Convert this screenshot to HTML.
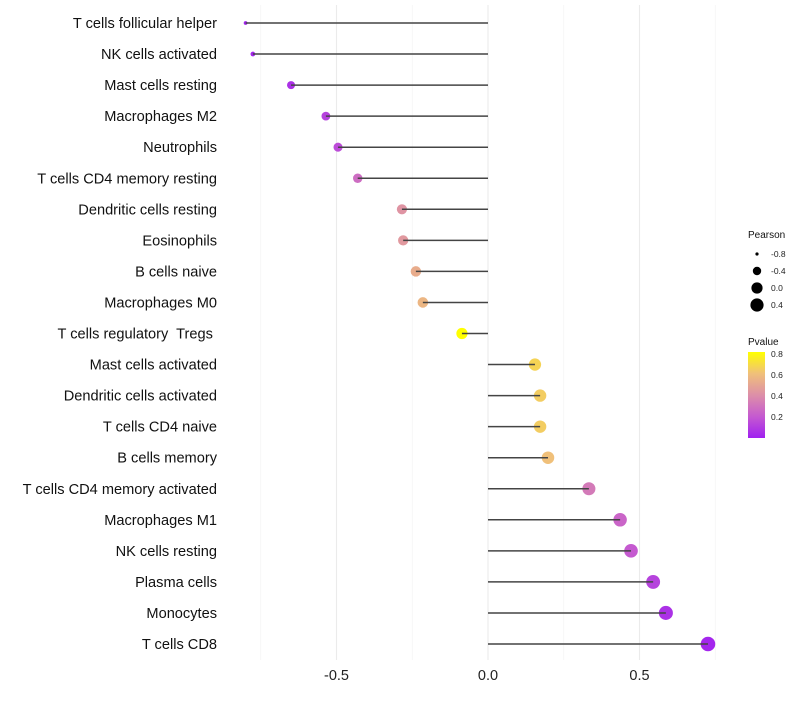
<!DOCTYPE html>
<html><head><meta charset="utf-8"><style>
body{margin:0;background:#fff;font-family:"Liberation Sans",sans-serif}
text{white-space:pre}
</style></head><body>
<svg id="chart" width="800" height="700" xmlns="http://www.w3.org/2000/svg"></svg>
<script>
const categories=["T cells follicular helper","NK cells activated","Mast cells resting","Macrophages M2","Neutrophils","T cells CD4 memory resting","Dendritic cells resting","Eosinophils","B cells naive","Macrophages M0","T cells regulatory  Tregs ","Mast cells activated","Dendritic cells activated","T cells CD4 naive","B cells memory","T cells CD4 memory activated","Macrophages M1","NK cells resting","Plasma cells","Monocytes","T cells CD8"];
const pearson=[-0.80,-0.776,-0.65,-0.535,-0.495,-0.43,-0.284,-0.28,-0.238,-0.215,-0.086,0.155,0.172,0.172,0.198,0.333,0.436,0.472,0.545,0.587,0.726];
const pvalue=[0.01,0.02,0.06,0.12,0.15,0.27,0.42,0.44,0.52,0.56,0.82,0.66,0.64,0.64,0.6,0.32,0.24,0.2,0.12,0.06,0.02];
const xTicks=[-0.5,0,0.5];
const xMinor=[-0.75,-0.25,0.25,0.75];
const sizeLegend=[-0.8,-0.4,0,0.4];
const colorTicks=[0.2,0.4,0.6,0.8];

const NS="http://www.w3.org/2000/svg";
const svg=document.getElementById('chart');
function mk(t,a,p){const e=document.createElementNS(NS,t);for(const k in a)e.setAttribute(k,a[k]);(p||svg).appendChild(e);return e;}
const x=v=>488+v*303;
const y=i=>23+i*31.05;
const r=v=>{const base=Math.sqrt(Math.max(1,33.7+26.9*v));return v<-0.7?base-(( -0.7-v)/0.1)*1.6:base;};
const stops=[[0,[160,32,240]],[0.2,[197,90,208]],[0.4,[221,143,168]],[0.6,[240,192,122]],[0.8,[255,255,0]]];
function col(p){p=Math.max(0,Math.min(0.8,p));for(let i=0;i<stops.length-1;i++){const a=stops[i],b=stops[i+1];if(p<=b[0]){const t=(p-a[0])/(b[0]-a[0]);const c=a[1].map((v,k)=>Math.round(v+(b[1][k]-v)*t));return`rgb(${c})`;}}return'rgb(255,255,0)';}

xMinor.forEach(v=>{const l=mk('line',{x1:x(v),x2:x(v),y1:5,y2:660,stroke:'#f2f2f2','stroke-width':0.6});

});
xTicks.forEach(v=>{const l=mk('line',{x1:x(v),x2:x(v),y1:5,y2:660,stroke:'#ebebeb','stroke-width':1.1});


const t=mk('text',{x:x(v),y:680,'text-anchor':'middle','font-size':14.5,fill:'#222'});t.textContent=v===0?'0.0':v.toFixed(1);

});
categories.forEach((c,i)=>{
const p=mk('circle',{cx:x(pearson[i]),cy:y(i),r:r(pearson[i]),fill:col(pvalue[i])});


const l=mk('line',{x1:x(0),x2:x(pearson[i]),y1:y(i),y2:y(i),stroke:'#444','stroke-width':1.5});


const t=mk('text',{x:217,y:y(i)+5,'text-anchor':'end','font-size':14.6,fill:'#111'});t.textContent=c;


});
const lt=mk('text',{x:748,y:238,'font-size':10,fill:'#111'});lt.textContent='Pearson';


sizeLegend.forEach((v,i)=>{const cy=254+i*17;
const c=mk('circle',{cx:757,cy:cy,r:[1.6,4.2,5.6,6.6][i],fill:'#000'});


const t=mk('text',{x:771,y:cy+3,'font-size':8.5,fill:'#222'});t.textContent=v.toFixed(1);

});
const ct=mk('text',{x:748,y:345,'font-size':10,fill:'#111'});ct.textContent='Pvalue';


const defs=mk('defs',{});const g=mk('linearGradient',{id:'pg',x1:0,y1:1,x2:0,y2:0},defs);
stops.forEach(s=>mk('stop',{offset:s[0]/0.8,'stop-color':col(s[0])},g));
const cb=mk('rect',{x:748,y:352,width:17,height:86,fill:'url(#pg)'});


colorTicks.forEach(v=>{const yy=438-(v/0.82)*86;
const t=mk('text',{x:771,y:yy+3,'font-size':8.5,fill:'#222'});t.textContent=v.toFixed(1);

});
</script>
</body></html>
